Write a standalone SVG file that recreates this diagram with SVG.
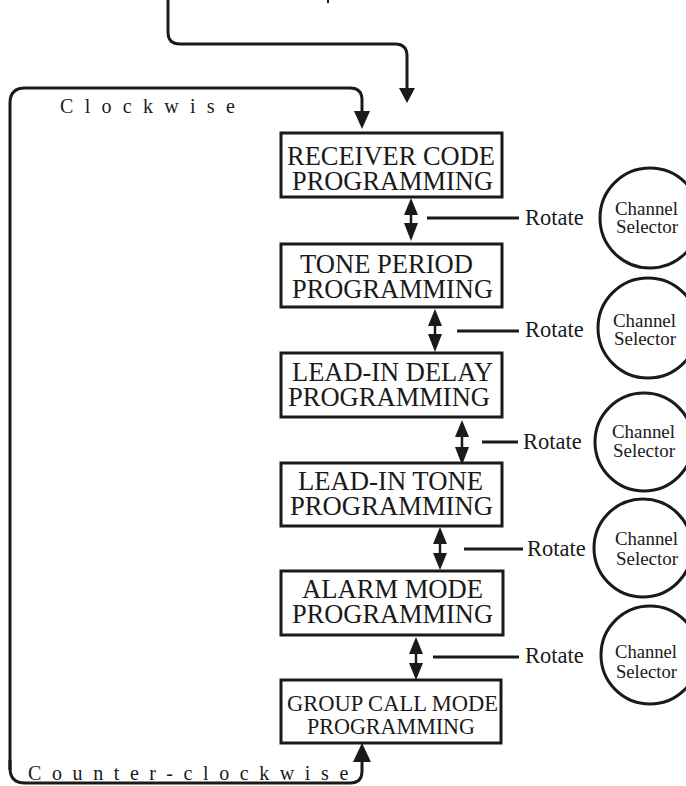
<svg xmlns="http://www.w3.org/2000/svg" width="686" height="786" viewBox="0 0 686 786">
<style>
.box{fill:#fff;stroke:#1a1a1a;stroke-width:3}
.bt{font-family:"Liberation Serif","Times New Roman",serif;font-size:27px;fill:#1a1a1a}
.st{font-family:"Liberation Serif","Times New Roman",serif;font-size:23.5px;fill:#1a1a1a}
.rt{font-family:"Liberation Serif","Times New Roman",serif;font-size:22.5px;fill:#1a1a1a}
.ct{font-family:"Liberation Serif","Times New Roman",serif;font-size:19.5px;fill:#1a1a1a}
.lt{font-family:"Liberation Serif","Times New Roman",serif;font-size:20px;fill:#1a1a1a}
.ln{fill:none;stroke:#1a1a1a;stroke-width:3}
.stem{fill:none;stroke:#1a1a1a;stroke-width:2.5}
.hd{fill:#1a1a1a}
.circ{fill:#fff;stroke:#1a1a1a;stroke-width:3}
</style>
<rect width="686" height="786" fill="#fff"/>
<g id="connectors">
  <rect x="327" y="0" width="2" height="3" fill="#1a1a1a"/>
  <path class="ln" d="M168,0 V32 Q168,44 180,44 H395 Q407,44 407,56 V90"/>
  <polygon class="hd" points="399,88 415,88 407,103"/>
  <path class="ln" d="M10,770 V103 Q10,88 25,88 H350 Q362,88 362,100 V114"/>
  <polygon class="hd" points="354,111 370,111 362,129"/>
  <path class="ln" d="M10,760 V768 Q10,783 25,783 H350 Q362,783 362,771 V758"/>
  <polygon class="hd" points="353,762 371,762 362,743"/>
  <g id="dbl1"><line class="stem" x1="411" y1="212" x2="411" y2="226"/><polygon class="hd" points="404,215 418,215 411,198"/><polygon class="hd" points="404,223 418,223 411,241"/></g>
  <g id="dbl2"><line class="stem" x1="435" y1="323" x2="435" y2="337"/><polygon class="hd" points="428,326 442,326 435,309"/><polygon class="hd" points="428,334 442,334 435,352"/></g>
  <g id="dbl3"><line class="stem" x1="462" y1="434" x2="462" y2="450"/><polygon class="hd" points="455,437 469,437 462,420"/><polygon class="hd" points="455,447 469,447 462,465"/></g>
  <g id="dbl4"><line class="stem" x1="440" y1="541" x2="440" y2="556"/><polygon class="hd" points="433,544 447,544 440,527"/><polygon class="hd" points="433,553 447,553 440,570"/></g>
  <g id="dbl5"><line class="stem" x1="416" y1="651" x2="416" y2="666"/><polygon class="hd" points="409,654 423,654 416,637"/><polygon class="hd" points="409,663 423,663 416,680"/></g>
  <line class="ln" x1="427" y1="218" x2="519" y2="218"/>
  <line class="ln" x1="457" y1="331" x2="519" y2="331"/>
  <line class="ln" x1="482" y1="442" x2="518" y2="442"/>
  <line class="ln" x1="464" y1="549" x2="523" y2="549"/>
  <line class="ln" x1="433" y1="657" x2="519" y2="657"/>
</g>
<g id="labels">
  <text class="lt" x="60" y="113" letter-spacing="11.3">Clockwise</text>
  <text class="lt" x="28" y="780" letter-spacing="10.6">Counter-clockwise</text>
  <text class="rt" x="525" y="225">Rotate</text>
  <text class="rt" x="525" y="337">Rotate</text>
  <text class="rt" x="523" y="449">Rotate</text>
  <text class="rt" x="527" y="556">Rotate</text>
  <text class="rt" x="525" y="663">Rotate</text>
</g>
<g id="box1"><rect class="box" x="281" y="133" width="221" height="64"/>
  <text class="bt" x="287" y="165" textLength="208" lengthAdjust="spacingAndGlyphs">RECEIVER CODE</text>
  <text class="bt" x="292" y="190" textLength="201" lengthAdjust="spacingAndGlyphs">PROGRAMMING</text></g>
<g id="box2"><rect class="box" x="281" y="244" width="221" height="63"/>
  <text class="bt" x="300" y="273" textLength="173" lengthAdjust="spacingAndGlyphs">TONE PERIOD</text>
  <text class="bt" x="292" y="298" textLength="201" lengthAdjust="spacingAndGlyphs">PROGRAMMING</text></g>
<g id="box3"><rect class="box" x="281" y="353" width="221" height="64"/>
  <text class="bt" x="292" y="381" textLength="201" lengthAdjust="spacingAndGlyphs">LEAD-IN DELAY</text>
  <text class="bt" x="288" y="406" textLength="202" lengthAdjust="spacingAndGlyphs">PROGRAMMING</text></g>
<g id="box4"><rect class="box" x="281" y="463" width="221" height="63"/>
  <text class="bt" x="298" y="490" textLength="185" lengthAdjust="spacingAndGlyphs">LEAD-IN TONE</text>
  <text class="bt" x="290" y="515" textLength="203" lengthAdjust="spacingAndGlyphs">PROGRAMMING</text></g>
<g id="box5"><rect class="box" x="281" y="571" width="222" height="64"/>
  <text class="bt" x="302" y="598" textLength="181" lengthAdjust="spacingAndGlyphs">ALARM MODE</text>
  <text class="bt" x="292" y="623" textLength="201" lengthAdjust="spacingAndGlyphs">PROGRAMMING</text></g>
<g id="box6"><rect class="box" x="281" y="680" width="220" height="63"/>
  <text class="st" x="287" y="711" textLength="211" lengthAdjust="spacingAndGlyphs">GROUP CALL MODE</text>
  <text class="st" x="307" y="734" textLength="168" lengthAdjust="spacingAndGlyphs">PROGRAMMING</text></g>
<g id="sel1"><circle class="circ" cx="650" cy="218" r="50"/>
  <text class="ct" x="615" y="215" textLength="63" lengthAdjust="spacingAndGlyphs">Channel</text>
  <text class="ct" x="616" y="233" textLength="62" lengthAdjust="spacingAndGlyphs">Selector</text></g>
<g id="sel2"><circle class="circ" cx="648" cy="328" r="50"/>
  <text class="ct" x="613" y="327" textLength="63" lengthAdjust="spacingAndGlyphs">Channel</text>
  <text class="ct" x="614" y="345" textLength="62" lengthAdjust="spacingAndGlyphs">Selector</text></g>
<g id="sel3"><circle class="circ" cx="644" cy="442" r="49"/>
  <text class="ct" x="612" y="438" textLength="63" lengthAdjust="spacingAndGlyphs">Channel</text>
  <text class="ct" x="613" y="457" textLength="62" lengthAdjust="spacingAndGlyphs">Selector</text></g>
<g id="sel4"><circle class="circ" cx="643" cy="548" r="49"/>
  <text class="ct" x="615" y="545" textLength="63" lengthAdjust="spacingAndGlyphs">Channel</text>
  <text class="ct" x="616" y="565" textLength="62" lengthAdjust="spacingAndGlyphs">Selector</text></g>
<g id="sel5"><circle class="circ" cx="650" cy="655" r="49"/>
  <text class="ct" x="615" y="658" textLength="62" lengthAdjust="spacingAndGlyphs">Channel</text>
  <text class="ct" x="616" y="678" textLength="61" lengthAdjust="spacingAndGlyphs">Selector</text></g>
</svg>
